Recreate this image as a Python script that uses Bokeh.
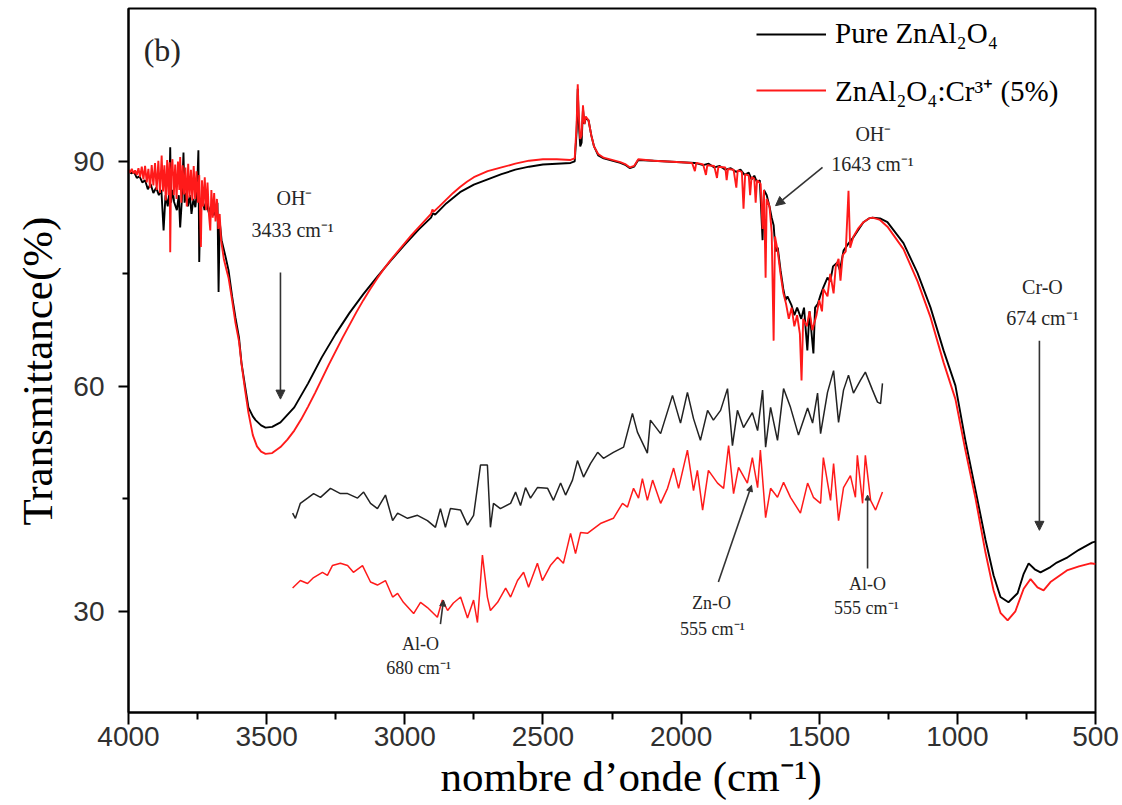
from bokeh.plotting import figure
from bokeh.models import Range1d, FixedTicker, Arrow, NormalHead, Label, Legend, LegendItem, Title
from bokeh.embed import file_html
from bokeh.resources import INLINE

# ---------------- data (wavenumber cm-1, transmittance %) ----------------
pure_w = [4000,3990,3980,3970,3960,3950,3940,3930,3920,3910,3900,3890,3881,3873,3866,3858,3852,3849,3846,3840,3835,3825,3818,3813,3807,3801,3797,3790,3785,3778,3772,3765,3758,3752,3747,3744,3740,3733,3725,3718,3710,3700,3692,3685,3678,3674,3670,3663,3650,3638,3625,3613,3600,3591,3578,3566,3550,3540,3520,3504,3480,3450,3400,3350,3300,3250,3200,3150,3100,3050,3000,2950,2905,2898,2890,2850,2800,2750,2700,2650,2600,2550,2500,2450,2400,2385,2378,2374,2370,2365,2360,2355,2350,2345,2335,2325,2315,2300,2280,2250,2220,2200,2185,2170,2155,2100,2050,2000,1950,1920,1900,1880,1860,1840,1820,1800,1785,1770,1755,1745,1735,1725,1715,1705,1700,1690,1680,1672,1665,1658,1650,1640,1630,1622,1615,1600,1590,1580,1565,1555,1543,1535,1521,1515,1505,1495,1485,1470,1460,1450,1435,1425,1412,1395,1376,1360,1340,1320,1307,1280,1253,1195,1144,1097,1050,1007,971,934,898,869,844,815,782,760,742,720,699,663,640,601,560,511,500]
pure_t = [88.8,88.4,88.6,87.8,88.0,87.2,87.5,86.3,87.0,85.8,86.5,85.5,86.2,80.8,85.5,84.0,86.0,91.9,84.5,86.2,84.6,83.5,85.5,81.2,84.8,91.2,84.5,85.8,84.0,85.5,83.0,85.0,83.9,86.0,91.5,76.6,84.0,85.2,83.5,84.8,83.2,84.2,82.8,83.6,84.5,72.6,82.0,79.5,77.5,75.5,72.0,69.2,66.5,63.1,60.0,57.2,56.0,55.5,54.8,54.5,54.6,55.2,57.2,60.4,63.9,67.0,69.8,72.3,74.6,76.8,78.9,80.9,82.5,83.1,82.9,84.4,85.9,86.9,87.6,88.3,88.9,89.3,89.6,89.7,89.8,90.0,94.0,99.7,95.0,92.0,92.5,97.0,95.0,95.8,95.5,93.5,92.0,90.8,90.4,90.1,89.8,89.5,89.1,89.3,90.2,90.1,90.0,89.9,89.8,89.5,89.7,89.2,89.4,88.9,89.1,88.6,88.9,88.2,88.5,87.6,88.1,87.2,87.5,79.5,86.2,85.5,84.0,82.5,81.5,78.0,78.5,75.5,73.0,71.5,72.0,70.8,69.5,70.5,69.0,70.5,64.8,70.0,64.4,70.5,71.0,72.2,73.2,74.5,74.0,76.0,76.5,75.5,78.1,79.0,79.9,80.8,81.9,82.4,82.5,82.4,81.9,79.1,75.1,70.5,64.8,60.1,52.8,46.1,39.5,34.8,31.9,31.2,32.4,35.0,36.4,35.6,35.2,35.9,36.5,37.2,38.2,39.2,39.3]

cr_w = [4000,3994,3988,3982,3976,3970,3964,3958,3952,3946,3940,3934,3928,3922,3916,3910,3904,3898,3892,3886,3880,3875,3870,3865,3860,3855,3851,3849,3846,3841,3836,3831,3826,3821,3816,3813,3809,3804,3799,3794,3789,3784,3779,3774,3769,3764,3759,3754,3749,3744,3738,3734,3729,3724,3719,3714,3709,3704,3700,3695,3690,3685,3680,3675,3670,3665,3655,3645,3638,3625,3613,3600,3591,3578,3566,3550,3535,3520,3504,3480,3450,3425,3400,3375,3350,3325,3300,3275,3250,3225,3200,3175,3150,3125,3100,3075,3050,3025,3000,2975,2950,2925,2905,2900,2895,2875,2850,2825,2800,2775,2750,2700,2650,2600,2550,2500,2450,2400,2385,2378,2374,2370,2365,2360,2355,2350,2345,2335,2325,2315,2300,2280,2250,2220,2200,2185,2170,2155,2100,2050,2000,1960,1950,1945,1920,1910,1905,1880,1870,1865,1840,1835,1830,1810,1800,1795,1780,1774,1768,1755,1750,1745,1735,1730,1725,1712,1705,1700,1694,1690,1680,1672,1665,1660,1650,1640,1630,1620,1610,1600,1590,1580,1570,1564,1558,1545,1535,1525,1510,1500,1490,1485,1470,1460,1448,1440,1430,1423,1415,1404,1394,1388,1376,1360,1340,1320,1307,1280,1253,1195,1144,1097,1050,1007,971,934,898,869,844,818,790,760,735,710,688,663,601,560,518,500]
cr_t = [88.9,88.5,89.0,88.4,88.8,88.2,89.1,87.9,89.3,87.6,89.4,87.2,89.0,86.5,89.5,86.8,89.8,86.2,90.1,85.8,90.8,86.0,89.5,84.8,90.2,85.5,89.9,77.9,88.0,90.3,85.5,89.6,85.0,90.0,86.2,90.6,84.5,89.5,85.6,89.2,84.0,89.7,85.2,88.9,84.8,89.4,85.0,88.7,84.5,88.2,78.6,87.5,84.0,87.9,83.5,87.2,83.0,80.8,86.2,82.5,85.8,82.0,85.0,81.0,83.0,79.5,77.0,75.5,74.5,71.5,68.5,66.0,63.0,59.5,56.5,53.5,52.0,51.3,51.0,51.1,51.9,52.9,54.1,55.6,57.3,59.1,61.0,62.9,64.7,66.5,68.2,69.9,71.5,73.0,74.4,75.7,76.9,78.0,79.1,80.2,81.2,82.2,83.0,83.6,83.3,84.0,84.9,85.8,86.6,87.3,87.9,88.7,89.2,89.7,90.1,90.3,90.3,90.2,90.4,95.0,100.3,96.0,93.0,93.5,97.5,95.0,96.0,95.5,93.5,92.0,91.0,90.5,90.2,89.9,89.6,89.2,89.4,90.3,90.1,90.0,89.9,89.8,88.7,89.8,89.6,88.2,89.5,89.4,87.8,89.3,89.2,87.5,89.0,88.9,86.5,88.8,88.6,83.7,88.3,88.1,85.5,87.9,87.7,84.5,87.5,87.0,81.0,86.2,74.5,85.0,84.0,80.5,66.1,80.0,78.0,75.0,72.5,71.0,69.0,70.5,68.0,69.5,67.0,60.8,69.0,68.0,70.0,67.5,69.5,71.5,70.0,73.0,72.0,75.0,72.4,76.0,77.0,74.1,77.5,78.0,86.1,78.5,80.0,81.0,81.9,82.4,82.5,82.2,81.3,78.3,74.0,69.2,63.2,58.3,51.5,45.0,37.8,32.8,29.8,28.8,30.0,33.0,34.3,33.2,32.8,33.9,35.5,36.0,36.4,36.3]

pure_inset_w = [3406,3396,3378,3352,3330,3305,3269,3233,3207,3171,3149,3124,3099,3070,3044,3026,2990,2954,2918,2889,2871,2853,2835,2798,2773,2751,2726,2701,2690,2679,2654,2617,2599,2581,2563,2545,2520,2483,2462,2436,2418,2393,2375,2353,2328,2302,2281,2245,2208,2176,2158,2122,2111,2074,2031,2002,1977,1955,1930,1904,1883,1857,1832,1814,1796,1774,1742,1723,1705,1694,1676,1651,1629,1604,1575,1542,1524,1506,1495,1470,1448,1430,1412,1394,1376,1351,1333,1307,1289,1278,1271]
pure_inset_t = [43.1,42.4,44.4,45.1,45.7,45.2,46.4,45.7,45.7,45.1,45.9,44.4,43.7,45.5,42.1,43.1,42.4,42.8,42.1,41.2,43.7,41.2,43.7,43.5,41.5,42.8,49.5,49.5,41.2,44.4,43.7,44.4,45.9,44.1,46.5,45.1,46.5,46.4,44.8,47.1,45.5,47.5,50.1,47.9,49.7,51.2,50.4,51.2,51.9,56.4,53.9,51.1,55.5,53.7,58.8,55.1,59.2,55.7,52.8,56.8,55.5,56.8,59.7,52.1,56.8,54.5,56.5,54.1,59.5,51.9,57.2,52.8,59.7,57.2,53.5,57.1,55.1,59.1,53.7,59.2,62.1,55.2,59.5,61.5,59.1,60.8,61.9,59.5,57.9,57.7,60.4]

cr_inset_w = [3406,3378,3352,3330,3298,3280,3262,3233,3207,3186,3153,3124,3099,3070,3044,3026,3005,2968,2943,2918,2882,2864,2845,2824,2798,2773,2751,2737,2719,2701,2690,2664,2635,2617,2592,2570,2552,2520,2502,2473,2447,2426,2400,2382,2364,2339,2292,2245,2212,2194,2172,2154,2140,2122,2103,2074,2049,2027,2009,1977,1955,1941,1922,1901,1868,1846,1828,1810,1792,1760,1742,1723,1713,1694,1676,1651,1629,1604,1568,1542,1521,1495,1485,1459,1448,1430,1412,1387,1369,1362,1343,1333,1314,1296,1271]
cr_inset_t = [33.1,34.1,33.7,34.5,35.2,34.8,36.1,36.4,36.1,35.2,36.1,33.9,33.5,34.1,31.9,32.4,31.2,29.7,31.2,30.5,29.2,31.5,30.1,31.1,31.9,29.1,31.5,28.5,37.5,31.9,30.1,31.2,33.1,31.9,34.1,35.2,33.2,36.4,34.1,36.1,37.2,36.4,40.4,37.7,40.5,40.4,41.7,42.4,44.4,43.9,46.4,45.1,47.7,44.8,47.5,44.4,46.4,49.1,46.4,51.5,46.1,48.8,43.5,48.8,47.1,46.4,52.1,45.7,49.2,47.1,50.5,46.5,51.5,42.5,46.4,45.2,47.2,45.2,43.1,47.1,45.2,44.4,50.5,44.8,49.7,42.1,46.5,48.1,45.2,50.8,44.4,50.8,44.8,43.5,45.9]

x_ticks = [4000, 3500, 3000, 2500, 2000, 1500, 1000, 500]
x_minor = [3750, 3250, 2750, 2250, 1750, 1250, 750]
y_ticks = [30, 60, 90]
y_minor = [45, 75]

legend_labels = ["Pure ZnAl\u2082O\u2084", "ZnAl\u2082O\u2084:Cr\u00b3\u207a (5%)"]
x_title = "nombre d\u2019onde (cm\u207b\u00b9)"
y_title = "Transmittance(%)"

SERIF = "Liberation Serif"
TXT = "#262626"

p = figure(width=1122, height=805, output_backend="svg", toolbar_location=None,
           x_range=Range1d(4000, 500), y_range=Range1d(16.5, 110.4),
           min_border_left=128, min_border_right=27, min_border_top=8, min_border_bottom=93)
p.grid.visible = False
p.outline_line_color = "black"
p.outline_line_width = 2
p.background_fill_color = "white"
p.border_fill_color = "white"

for ax in (p.xaxis[0], p.yaxis[0]):
    ax.axis_line_width = 2
    ax.axis_line_color = "black"
    ax.major_tick_line_width = 2
    ax.minor_tick_line_width = 2
    ax.major_tick_line_color = "black"
    ax.minor_tick_line_color = "black"
    ax.major_tick_in = 0
    ax.minor_tick_in = 0
    ax.major_label_text_font = "Liberation Sans"
    ax.major_label_text_font_size = "28px"
    ax.major_label_text_color = "#303030"

p.xaxis.ticker = FixedTicker(ticks=x_ticks, minor_ticks=x_minor)
p.yaxis.ticker = FixedTicker(ticks=y_ticks, minor_ticks=y_minor)
p.xaxis.major_tick_out = 12
p.xaxis.minor_tick_out = 7
p.yaxis.major_tick_out = 10
p.yaxis.minor_tick_out = 6
p.xaxis.major_label_standoff = 2
p.yaxis.major_label_standoff = 14

# axis titles as side titles so they can be offset along the axis like the reference
p.add_layout(Title(text=x_title, align="left", offset=312, standoff=4,
                   text_font=SERIF, text_font_size="43px", text_font_style="normal",
                   text_color="black"), "below")
p.add_layout(Title(text=y_title, align="left", offset=187, standoff=19,
                   text_font=SERIF, text_font_size="43px", text_font_style="normal",
                   text_color="black"), "left")

r_pure = p.line(pure_w, pure_t, line_color="black", line_width=1.9)
r_cr = p.line(cr_w, cr_t, line_color="#ff1a1a", line_width=1.9)
p.line(pure_inset_w, pure_inset_t, line_color="#222222", line_width=1.5)
p.line(cr_inset_w, cr_inset_t, line_color="#ff1a1a", line_width=1.5)

legend = Legend(items=[LegendItem(label=legend_labels[0], renderers=[r_pure]),
                       LegendItem(label=legend_labels[1], renderers=[r_cr])],
                location=(628, 603), orientation="vertical",
                glyph_width=70, glyph_height=30, label_height=30, spacing=20,
                padding=0, margin=0, label_standoff=9,
                border_line_color=None, background_fill_alpha=0,
                label_text_font=SERIF, label_text_font_size="29px", label_text_color="black")
p.add_layout(legend)

# panel label
p.add_layout(Label(x=3945, y=104.8, text="(b)", text_font=SERIF, text_font_size="32px",
                   text_align="left", text_baseline="middle", text_color=TXT))

def note(x, y, s, size="20px"):
    p.add_layout(Label(x=x, y=y, text=s, text_font=SERIF, text_font_size=size,
                       text_align="center", text_baseline="middle", text_color=TXT))

def arrow(x0, y0, x1, y1, head=9):
    p.add_layout(Arrow(end=NormalHead(size=head, fill_color="#333333", line_color="#333333"),
                       x_start=x0, y_start=y0, x_end=x1, y_end=y1,
                       line_color="#333333", line_width=1.6))

note(3399, 85.1, "OH\u207b")
note(3406, 80.8, "3433 cm\u207b\u00b9")
arrow(3450, 75.2, 3450, 58.3)

note(1304, 93.7, "OH\u207b")
note(1307, 89.7, "1643 cm\u207b\u00b9")
arrow(1488, 89.2, 1658, 84.1)

note(692, 73.2, "Cr-O")
note(692, 69.1, "674 cm\u207b\u00b9")
arrow(703, 66.1, 703, 40.8)

note(1890, 31.1, "Zn-O", "18px")
note(1886, 27.7, "555 cm\u207b\u00b9", "18px")
arrow(1865, 33.9, 1745, 46.8, head=6)

note(1325, 33.7, "Al-O", "18px")
note(1329, 30.5, "555 cm\u207b\u00b9", "18px")
arrow(1325, 35.7, 1325, 45.5, head=5)

note(2943, 25.7, "Al-O", "18px")
note(2950, 22.5, "680 cm\u207b\u00b9", "18px")
arrow(2871, 28.3, 2860, 31.5, head=6)

open("out.html", "w").write(file_html(p, INLINE))
